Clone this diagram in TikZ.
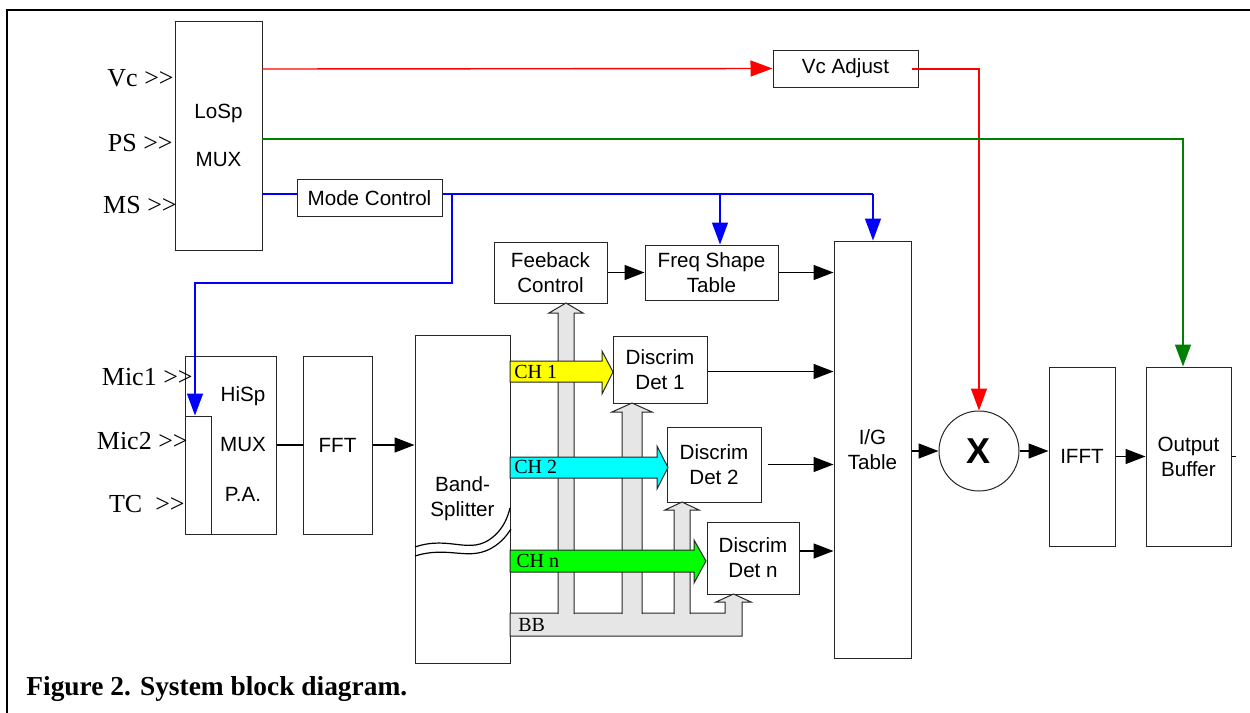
\documentclass[tikz,border=0pt]{standalone}
\usepackage{fontspec}
\setmainfont{Liberation Serif}
\setsansfont{Liberation Sans}
\usetikzlibrary{arrows.meta}
\definecolor{myred}{RGB}{255,0,0}
\definecolor{mygreen}{RGB}{0,128,0}
\definecolor{myblue}{RGB}{0,0,255}
\definecolor{bbgray}{RGB}{230,230,230}
\definecolor{chyellow}{RGB}{255,255,0}
\definecolor{chcyan}{RGB}{0,255,255}
\definecolor{chgreen}{RGB}{0,255,0}
\begin{document}
\begin{tikzpicture}[x=0.5pt,y=-0.5pt,
  blk/.style={draw=black!85, line width=0.5pt, fill=white, rectangle, inner sep=0pt,
    font=\sffamily\fontsize{10.3}{12.5}\selectfont, align=center},
  conn/.style={line width=0.7pt, black},
  conna/.style={line width=0.7pt, black, -{Triangle[length=10pt,width=7.5pt]}},
  sig/.style={line width=0.7pt},
  siga/.style={line width=0.7pt, -{Triangle[length=11pt,width=8pt]}},
  inlbl/.style={anchor=east, inner sep=0pt, font=\fontsize{13}{15}\selectfont},
  chlbl/.style={anchor=west, inner sep=0pt, font=\fontsize{10}{12}\selectfont},
  bus/.style={draw=black!85, line width=0.5pt, fill=bbgray},
  charrow/.style={draw=black!85, line width=0.5pt}
]
\useasboundingbox (0,0) rectangle (1250,713);

% outer frame
\draw[line width=1pt] (7,713) -- (7,10) -- (1250,10);

% boxes
\node[blk, minimum width=43.5pt, minimum height=114.5pt, font=\sffamily\fontsize{10.3}{24}\selectfont] (losp) at (218.5,135.5) {LoSp\\MUX};
\node[blk, minimum width=72.5pt, minimum height=18.5pt] (mode) at (369.5,198) {Mode Control};
\node[blk, minimum width=72.5pt, minimum height=18.5pt] (vcadj) at (845.5,68.5) {Vc Adjust};
\node[blk, minimum width=45.5pt, minimum height=89pt] (hisp) at (230.5,445) {};
\node[blk, minimum width=13pt, minimum height=59pt] (hispin) at (198,475) {};
\node[font=\sffamily\fontsize{10.3}{25}\selectfont, align=center, inner sep=0pt] (hisptext) at (243,444) {HiSp\\MUX\\P.A.};
\node[blk, minimum width=34.5pt, minimum height=89pt] (fft) at (337.5,445) {FFT};
\node[blk, minimum width=47.5pt, minimum height=164pt] (band) at (462.5,499) {Band-\\Splitter};
\node[blk, minimum width=56.5pt, minimum height=30.5pt] (feeb) at (550.5,272.5) {Feeback\\Control};
\node[blk, minimum width=66.5pt, minimum height=27.5pt] (freq) at (711.5,272.5) {Freq Shape\\Table};
\node[blk, minimum width=38.5pt, minimum height=208.5pt] (ig) at (872.5,449.5) {I/G\\Table};
\node[blk, minimum width=47pt, minimum height=33.5pt] (det1) at (660,369.5) {Discrim\\Det 1};
\node[blk, minimum width=47pt, minimum height=37.5pt] (det2) at (714,464.5) {Discrim\\Det 2};
\node[blk, minimum width=46pt, minimum height=36pt] (detn) at (753,558) {Discrim\\Det n};
\node[draw=black!85, fill=white, line width=0.5pt, circle, minimum size=40pt, inner sep=0pt,
  font=\sffamily\bfseries\fontsize{18}{20}\selectfont] (xc) at (979,451) {X};
\node[blk, minimum width=33pt, minimum height=89.5pt] (ifft) at (1082,456.5) {IFFT};
\node[blk, minimum width=42.5pt, minimum height=89.5pt] (obuf) at (1188.5,456.5) {Output\\Buffer};

% wavy break lines in band splitter
\draw[line width=0.6pt] (415,547) .. controls (450,535) and (470,556) .. (493,537) .. controls (504,528) and (508,516) .. (510,508);
\draw[line width=0.6pt] (415,556) .. controls (450,545) and (470,563) .. (495,546) .. controls (505,539) and (508,533) .. (511,529);

% input labels
\node[inlbl] (vc) at (174,78) {Vc >\kern0pt>};
\node[inlbl] (ps) at (173,143) {PS >\kern0pt>};
\node[inlbl] (ms) at (177,205.5) {MS >\kern0pt>};
\node[inlbl] (mic1) at (193,377.5) {Mic1 >\kern0pt>};
\node[inlbl] (mic2) at (188,441) {Mic2 >\kern0pt>};
\node[inlbl] (tc) at (185,504) {TC\ \ >\kern0pt>};

% coordinates for signal lines
\coordinate (r0) at (262,69);
\coordinate (r1) at (912,69);
\coordinate (g0) at (262,139);
\coordinate (g1) at (1183,139);
\coordinate (bl0) at (262,194);
\coordinate (bj) at (452,194);
\coordinate (bf) at (720,194);
\coordinate (bi) at (873,194);
\coordinate (bh) at (195,283);

% red
\draw[siga, myred] (r0) -- (vcadj.west);
\draw[siga, myred] (r1) -| (xc.north);
% green
\draw[siga, mygreen] (g0) -| (g1 |- obuf.north);
% blue
\draw[sig, myblue] (bl0) -- (bl0 -| mode.west);
\draw[sig, myblue] (bl0 -| mode.east) -- (bi);
\draw[siga, myblue] (bi) -- (bi |- ig.north);
\draw[siga, myblue] (bf) -- (bf |- freq.north);
\draw[siga, myblue] (bj) |- (bh) -- (bh |- hispin.north);

% black connectors
\draw[conn] (hisp.east) -- (fft.west);
\draw[conna] (fft.east) -- (fft.east -| band.west);
\draw[conna] (feeb.east) -- (freq.west);
\draw[conna] (freq.east) -- (freq.east -| ig.west);
\draw[conna] ([yshift=-1pt]det1.east) -- ([yshift=-1pt]det1.east -| ig.west);
\draw[conna] ([xshift=3pt]det2.east) -- (det2.east -| ig.west);
\draw[conna] ([yshift=3.5pt]detn.east) -- ([yshift=3.5pt]detn.east -| ig.west);
\draw[conna] (ig.east |- xc) -- (xc);
\draw[conna] (xc) -- (xc -| ifft.west);
\draw[conna] (ifft.east) -- (obuf.west);
\draw[conn] (obuf.east) -- ++(4,0);

% BB bus
\draw[bus] (510,613) -- (725,613) -- (725,602) -- (716,602) -- (733.5,594) -- (751,602) -- (742,602) -- (742,636) -- (510,636) -- cycle;
\draw[bus] (558,614) -- (558,313) -- (549,313) -- (566,303) -- (583,313) -- (574,313) -- (574,614);
\draw[bus] (622,614) -- (622,412) -- (612,412) -- (632,403) -- (652,412) -- (642,412) -- (642,614);
\draw[bus] (674,614) -- (674,510) -- (665,510) -- (682,502) -- (699,510) -- (690,510) -- (690,614);
\node[chlbl] (bb) at (518,625) {BB};

% channel arrows
\draw[charrow, fill=chyellow] (510,361) -- (602,361) -- (602,351) -- (613,372) -- (602,394) -- (602,382) -- (510,382) -- cycle;
\draw[charrow, fill=chcyan] (510,457) -- (657,457) -- (657,446) -- (668,467.5) -- (657,489) -- (657,478) -- (510,478) -- cycle;
\draw[charrow, fill=chgreen] (510,550) -- (694,550) -- (694,540) -- (706,561) -- (694,583) -- (694,572) -- (510,572) -- cycle;
\node[chlbl] (ch1) at (514,372) {CH 1};
\node[chlbl] (ch2) at (514,467) {CH 2};
\node[chlbl] (chn) at (516,561) {CH n};

% caption
\node[anchor=base west, inner sep=0pt, font=\bfseries\fontsize{13.7}{16}\selectfont] (cap) at (26,695) {Figure 2. System block diagram.};
\end{tikzpicture}
\end{document}
